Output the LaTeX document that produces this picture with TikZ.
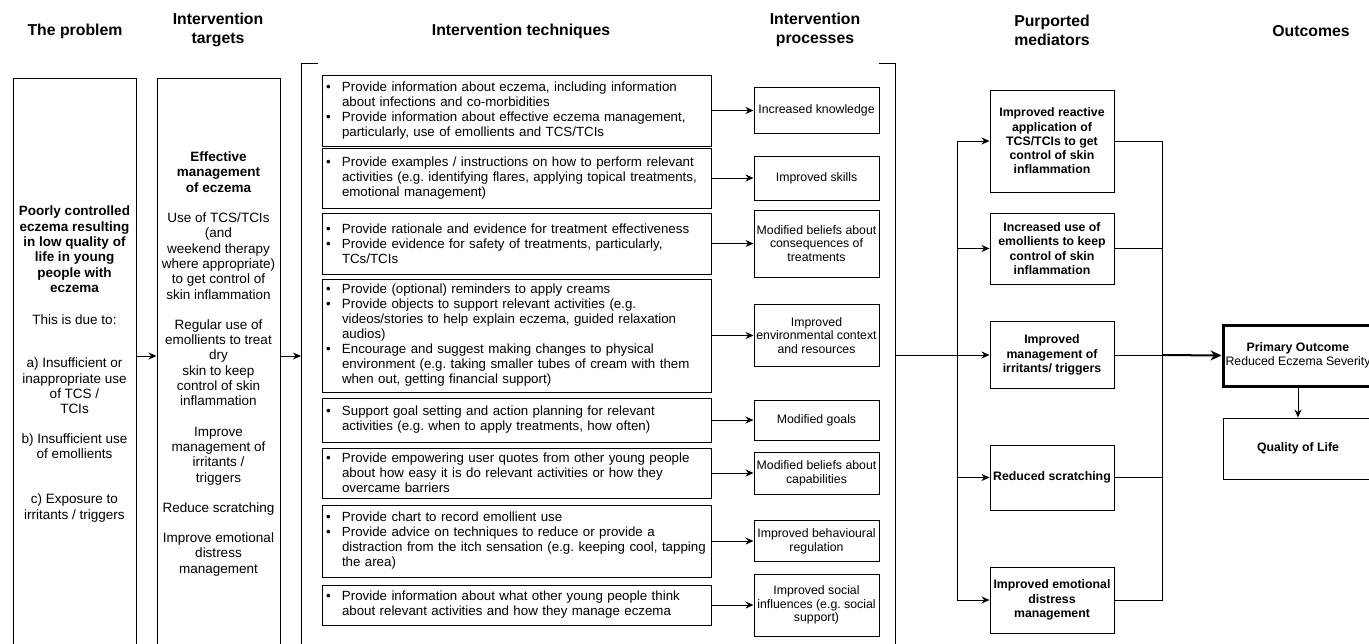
\documentclass[tikz,border=0pt]{standalone}
\usepackage{fontspec}
\setmainfont{Liberation Sans}
\usepackage{tikz}
\usetikzlibrary{calc, positioning, arrows.meta}
\newcommand{\bul}{\makebox[20pt][l]{\hspace{4pt}\textbullet}}
\newcommand{\ind}{\hspace*{20pt}}
\frenchspacing

\begin{document}
\begin{tikzpicture}[x = 1pt, y = -1pt, >= {Stealth[length = 8pt, width = 7pt]},
        head/.style = {align = center, inner sep = 0pt, font = \fontsize{15.8}{19}\selectfont\bfseries},
        tall/.style = {draw, line width = 1pt, minimum width = 123pt, minimum height = 572pt, inner sep = 2pt, align = center, font = \fontsize{13.5}{15.3}\selectfont},
        tech/.style = {draw, line width = 1pt, text width = 389pt, inner xsep = 0pt, inner ysep = 2pt, align = left, font = {\fontsize{13.3}{15}\selectfont\hyphenpenalty = 10000}},
        proc/.style = {draw, line width = 1pt, minimum width = 125pt, inner sep = 2pt, align = center, font = \fontsize{12.3}{13.8}\selectfont},
        med/.style = {draw, line width = 1pt, minimum width = 124pt, inner sep = 2pt, align = center, font = \fontsize{12.3}{14.3}\selectfont},
        outc/.style = {draw, minimum width = 150pt, minimum height = 61pt, inner sep = 2pt, align = center, font = \fontsize{12.3}{14.3}\selectfont},
        link/.style = {line width = 1pt},
        bold arrow/.style = {line width = 2pt, -{Stealth[length = 11pt, width = 10pt]}}]

    \useasboundingbox (0, 0) rectangle (1369, 643);

    \node[head] (h_problem) at (75, 31) {The problem};
    \node[head] (h_targets) at (218, 30) {Intervention\\targets};
    \node[head] (h_techniques) at (521, 31) {Intervention techniques};
    \node[head] (h_processes) at (815, 30) {Intervention\\processes};
    \node[head] (h_mediators) at (1052, 30) {Purported\\mediators};
    \node[head] (h_outcomes) at (1311, 31) {Outcomes};

    \node[tall] (problem) at (74.5, 364) {\textbf{Poorly controlled}\\ \textbf{eczema resulting}\\ \textbf{in low quality of}\\ \textbf{life in young}\\ \textbf{people with}\\ \textbf{eczema}\\[17pt]
        This is due to:\\[28pt]
        a) Insufficient or\\ inappropriate use\\ of TCS /\\ TCIs\\[14pt]
        b) Insufficient use\\ of emollients\\[30pt]
        c) Exposure to\\ irritants / triggers};

    \node[tall] (target) at (218.5, 364) {\textbf{Effective}\\ \textbf{management}\\ \textbf{of eczema}\\[15pt]
        Use of TCS/TCIs\\ (and\\ weekend therapy\\ where appropriate)\\ to get control of\\ skin inflammation\\[15pt]
        Regular use of\\ emollients to treat\\ dry\\ skin to keep\\ control of skin\\ inflammation\\[15pt]
        Improve\\ management of\\ irritants /\\ triggers\\[15pt]
        Reduce scratching\\[15pt]
        Improve emotional\\ distress\\ management};

    \coordinate (br_l) at (301, 356);
    \coordinate (br_r) at (895, 355);
    \draw[link] (318, 63) -- (301, 63) -- (301, 650);
    \draw[link] (879, 63) -- (895, 63) -- (895, 650);

    \draw[link, ->] ([yshift = 8pt]problem.east) -- ([yshift = 8pt]target.west);
    \draw[link, ->] ([yshift = 8pt]target.east) -- (br_l);

    \node[tech, minimum height = 71pt] (t1) at (516.5, 110.5) {\bul Provide information about eczema, including information\\ \ind about infections and co-morbidities\\ \bul Provide information about effective eczema management,\\ \ind particularly, use of emollients and TCS/TCIs};
    \node[tech, minimum height = 60pt] (t2) at (516.5, 178) {\bul Provide examples / instructions on how to perform relevant\\ \ind activities (e.g. identifying flares, applying topical treatments,\\ \ind emotional management)};
    \node[tech, minimum height = 61pt] (t3) at (516.5, 243.5) {\bul Provide rationale and evidence for treatment effectiveness\\ \bul Provide evidence for safety of treatments, particularly,\\ \ind TCs/TCIs};
    \node[tech, minimum height = 113pt] (t4) at (516.5, 335.5) {\bul Provide (optional) reminders to apply creams\\ \bul Provide objects to support relevant activities (e.g.\\ \ind videos/stories to help explain eczema, guided relaxation\\ \ind audios)\\ \bul Encourage and suggest making changes to physical\\ \ind environment (e.g. taking smaller tubes of cream with them\\ \ind when out, getting financial support)};
    \node[tech, minimum height = 44pt] (t5) at (516.5, 420) {\bul Support goal setting and action planning for relevant\\ \ind activities (e.g. when to apply treatments, how often)};
    \node[tech, minimum height = 50pt] (t6) at (516.5, 473) {\bul Provide empowering user quotes from other young people\\ \ind about how easy it is do relevant activities or how they\\ \ind overcame barriers};
    \node[tech, minimum height = 72pt] (t7) at (516.5, 541) {\bul Provide chart to record emollient use\\ \bul Provide advice on techniques to reduce or provide a\\ \ind distraction from the itch sensation (e.g. keeping cool, tapping\\ \ind the area)};
    \node[tech, minimum height = 40pt] (t8) at (516.5, 605) {\bul Provide information about what other young people think\\ \ind about relevant activities and how they manage eczema};

    \node[proc, minimum height = 46pt, right = 42pt of t1] (p1) {Increased knowledge};
    \node[proc, minimum height = 44pt, right = 42pt of t2] (p2) {Improved skills};
    \node[proc, minimum height = 67pt, right = 42pt of t3] (p3) {Modified beliefs about\\consequences of\\treatments};
    \node[proc, minimum height = 62pt, right = 42pt of t4] (p4) {Improved\\environmental context\\and resources};
    \node[proc, minimum height = 40pt, right = 42pt of t5] (p5) {Modified goals};
    \node[proc, minimum height = 42pt, right = 42pt of t6] (p6) {Modified beliefs about\\capabilities};
    \node[proc, minimum height = 41pt, right = 42pt of t7] (p7) {Improved behavioural\\regulation};
    \node[proc, minimum height = 62pt, right = 42pt of t8] (p8) {Improved social\\influences (e.g. social\\support)};

    \draw[link, ->] (t1) -- (p1);
    \draw[link, ->] (t2) -- (p2);
    \draw[link, ->] (t3) -- (p3);
    \draw[link, ->] (t4) -- (p4);
    \draw[link, ->] (t5) -- (p5);
    \draw[link, ->] (t6) -- (p6);
    \draw[link, ->] (t7) -- (p7);
    \draw[link, ->] (t8) -- (p8);

    \node[med, minimum height = 102pt] (m1) at (1052, 141) {\textbf{Improved reactive}\\ \textbf{application of}\\ \textbf{TCS/TCIs to get}\\ \textbf{control of skin}\\ \textbf{inflammation}};
    \node[med, minimum height = 71pt] (m2) at (1052, 248.5) {\textbf{Increased use of}\\ \textbf{emollients to keep}\\ \textbf{control of skin}\\ \textbf{inflammation}};
    \node[med, minimum height = 67pt] (m3) at (1052, 355) {\textbf{Improved}\\ \textbf{management of}\\ \textbf{irritants/ triggers}};
    \node[med, minimum height = 65pt] (m4) at (1052, 477.5) {\textbf{Reduced scratching}};
    \node[med, minimum height = 66pt] (m5) at (1052, 600) {\textbf{Improved emotional}\\ \textbf{distress}\\ \textbf{management}};

    \coordinate (bus_in) at (957, 355);
    \coordinate (bus_out) at (1162, 355);

    \draw[link, ->] (br_r) -- (m3.west);
    \draw[link] (bus_in |- m1.west) -- (bus_in |- m5.west);
    \draw[link, ->] (bus_in |- m1.west) -- (m1.west);
    \draw[link, ->] (bus_in |- m2.west) -- (m2.west);
    \draw[link, ->] (bus_in |- m4.west) -- (m4.west);
    \draw[link, ->] (bus_in |- m5.west) -- (m5.west);

    \draw[link] (m1.east) -- (bus_out |- m1.east) -- (bus_out |- m5.east) -- (m5.east);
    \draw[link] (m2.east) -- (bus_out |- m2.east);
    \draw[link] (m3.east) -- (bus_out |- m3.east);
    \draw[link] (m4.east) -- (bus_out |- m4.east);

    \node[outc, line width = 3pt] (primary) at (1298, 355.5) {\textbf{Primary Outcome}\\ Reduced Eczema Severity};
    \node[outc, line width = 1pt] (qol) at (1298, 448.5) {\textbf{Quality of Life}};

    \draw[bold arrow] (bus_out) -- (primary.west);
    \draw[link, ->] (primary) -- (qol);
\end{tikzpicture}
\end{document}
